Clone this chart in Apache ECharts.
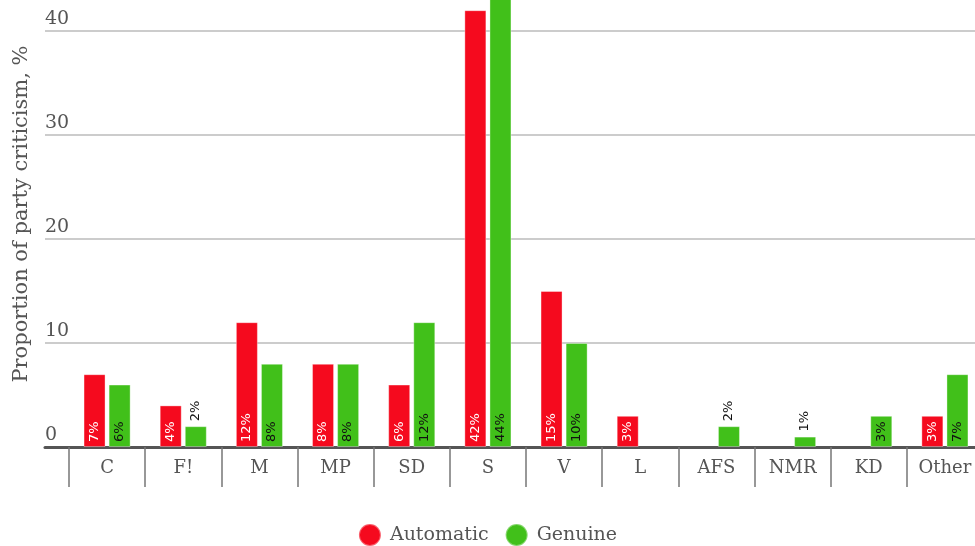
<!DOCTYPE html>
<html><head><meta charset="utf-8">
<script src="https://cdn.jsdelivr.net/npm/echarts@6/dist/echarts.min.js"></script>
<style>html,body{margin:0;padding:0;background:#fff}#c{width:975px;height:546px}</style>
</head><body><div id="c"></div>
<script>
const categories = ['C','F!','M','MP','SD','S','V','L','AFS','NMR','KD','Other'];
const automatic = [7,4,12,8,6,42,15,3,null,null,null,3];
const genuine = [6,2,8,8,12,44,10,null,2,1,3,7];
const yTicks = [0,10,20,30,40];
const seriesNames = ['Automatic','Genuine'];
const colors = ['#f50a1e','#41c01a'];
const FONT = 'DejaVu Serif';

function mkData(arr, insideColor){
  return arr.map(v => {
    if (v == null) return '-';
    if (v < 3) return {value: v, label: {position: 'top', color: '#111', distance: 5}};
    return {value: v, label: {position: 'insideBottom', color: insideColor, distance: 5}};
  });
}
const labelBase = {show: true, rotate: 90, align: 'left', verticalAlign: 'middle', fontFamily: 'DejaVu Sans', fontSize: 13, formatter: p => p.value + '%'};

const chart = echarts.init(document.getElementById('c'), null, {renderer: 'canvas'});
chart.setOption({
  animation: false,
  textStyle: {fontFamily: FONT},
  grid: [
    {left: 45, right: 0, top: 31, bottom: 99, outerBoundsMode: 'none'},
    {left: 69, width: 914, top: 31, bottom: 99, outerBoundsMode: 'none', containLabel: false}
  ],
  xAxis: [
    {gridIndex: 0, type: 'value', min: 0, max: 1, axisLabel: {show: false}, axisTick: {show: false}, splitLine: {show: false},
      axisLine: {show: true, lineStyle: {color: '#555', width: 3}}},
    {gridIndex: 1, type: 'category', data: categories, axisLine: {show: false},
      axisTick: {show: true, length: 40, lineStyle: {color: '#777', width: 1.5}},
      axisLabel: {fontFamily: FONT, fontSize: 18, color: '#555', margin: 12, interval: 0}}
  ],
  yAxis: [
    {gridIndex: 0, type: 'value', min: 0, max: 40, interval: 10, axisLine: {show: false}, axisTick: {show: false},
      splitLine: {show: true, lineStyle: {color: '#bbb', width: 1.5}},
      axisLabel: {inside: true, margin: 0, verticalAlign: 'bottom', padding: [0,0,2,0], fontFamily: FONT, fontSize: 19, color: '#555',
        formatter: v => yTicks.includes(v) ? String(v) : ''}},
    {gridIndex: 1, type: 'value', min: 0, max: 40, interval: 10, show: false}
  ],
  legend: {top: 518, left: 'center', icon: 'circle', itemWidth: 22, itemHeight: 22, itemGap: 16,
    textStyle: {fontFamily: FONT, fontSize: 19, color: '#555', padding: [0,0,0,4]}, data: seriesNames},
  graphic: [{type: 'text', x: 22, y: 214, rotation: Math.PI/2,
    style: {text: 'Proportion of party criticism, %', fontFamily: FONT, fontSize: 21, fill: '#555', align: 'center', verticalAlign: 'middle'}}],
  series: [
    {name: seriesNames[0], type: 'bar', xAxisIndex: 1, yAxisIndex: 1, data: mkData(automatic, '#fff'), barWidth: 22, barGap: '14%', clip: false,
      itemStyle: {color: colors[0], borderColor: 'rgba(255,255,255,0.35)', borderWidth: 1}, label: labelBase},
    {name: seriesNames[1], type: 'bar', xAxisIndex: 1, yAxisIndex: 1, data: mkData(genuine, '#111'), barWidth: 22, barGap: '14%', clip: false,
      itemStyle: {color: colors[1], borderColor: 'rgba(255,255,255,0.35)', borderWidth: 1}, label: labelBase}
  ]
});
</script></body></html>
